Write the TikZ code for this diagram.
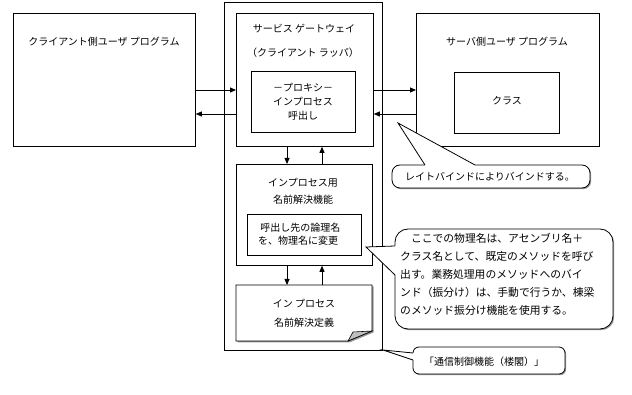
\documentclass[tikz,border=0pt]{standalone}
\usepackage{fontspec}
\setmainfont{Noto Sans CJK JP}
\usetikzlibrary{arrows.meta}
\begin{document}
\begin{tikzpicture}[x=1pt,y=-1pt,
  box/.style={draw, line width=0.8pt, inner sep=0pt, anchor=north west},
  lbl/.style={inner sep=0pt, font=\fontsize{10}{13}\selectfont, align=center},
  arr/.style={line width=0.8pt, -{Triangle[length=6pt,width=5pt]}},
  cshadow/.style={fill=black!40, draw=none},
  cbody/.style={fill=white, draw, line width=0.8pt},
  cline/.style={line width=0.8pt}]
\useasboundingbox (0,0) rectangle (632,395);

% client side
\node[box, minimum width=182pt, minimum height=133pt] (client) at (13,13) {};
\node[lbl] (clienttxt) at (104,42) {クライアント側ユーザ プログラム};

% gateway
\node[box, minimum width=158pt, minimum height=348pt] (outer) at (224,2) {};
\node[box, minimum width=137pt, minimum height=133pt] (gw) at (236,13) {};
\node[lbl] (gwt1) at (304,29) {サービス ゲートウェイ};
\node[lbl] (gwt2) at (303,53) {（クライアント ラッパ）};
\node[box, minimum width=104pt, minimum height=61pt] (proxy) at (251,71) {};
\node[lbl, font=\fontsize{10}{14}\selectfont] (proxytxt) at (303,102) {－プロキシ－\\インプロセス\\呼出し};

% server side
\node[box, minimum width=183pt, minimum height=133pt] (server) at (416,13) {};
\node[lbl] (servertxt) at (507,42) {サーバ側ユーザ プログラム};
\node[box, minimum width=105pt, minimum height=61pt] (cls) at (454,72) {};
\node[lbl] (clstxt) at (507,101) {クラス};

% name resolution
\node[box, minimum width=136pt, minimum height=101pt] (nres) at (236,164) {};
\node[lbl, font=\fontsize{10}{17}\selectfont] (nrestxt) at (303,191.5) {インプロセス用\\名前解決機能};
\node[box, minimum width=114pt, minimum height=41pt] (conv) at (247,214) {};
\node[lbl, align=left, font=\fontsize{10}{12.5}\selectfont, anchor=west] (convtxt) at (258,234) {\ 呼出し先の論理名\\を、物理名に変更};

% definition (document shape)
\node[inner sep=0pt, minimum width=136pt, minimum height=56pt, anchor=north west] (def) at (236,285) {};
\fill[black!40] (237.5,286.5) -- (373.5,286.5) -- (373.5,332.5) -- (349.5,342.5) -- (237.5,342.5) -- cycle;
\draw[fill=white, line width=0.8pt] (236,285) -- (372,285) -- (372,331) -- (348,341) -- (236,341) -- cycle;
\filldraw[fill=black!25, line width=0.6pt] (348,341) -- (353,332) -- (372,331) -- cycle;
\node[lbl, font=\fontsize{10}{19}\selectfont] (deftxt) at (304,313.5) {イン プロセス\\名前解決定義};

% arrows
\draw[arr] (client.east |- 0,90) -- (gw.west |- 0,90);
\draw[arr] (gw.west |- 0,114) -- (client.east |- 0,114);
\draw[arr] (gw.east |- 0,90) -- (server.west |- 0,90);
\draw[arr] (server.west |- 0,114) -- (gw.east |- 0,114);
\draw[arr] (gw.south -| 287,0) -- (nres.north -| 287,0);
\draw[arr] (nres.north -| 322,0) -- (gw.south -| 322,0);
\draw[arr] (nres.south -| 287,0) -- (def.north -| 287,0);
\draw[arr] (def.north -| 322,0) -- (nres.south -| 322,0);

% callout 1
\coordinate (c1tip) at (398,123);
\fill[cshadow, rounded corners=8pt] (393.2,166.2) rectangle (591.2,189.2);
\draw[cbody, rounded corners=8pt] (392,165) rectangle (590,188);
\fill[white] (c1tip) -- (425,165) -- (425,166) -- (475,166) -- (475,165) -- cycle;
\draw[cline] (425,165) -- (c1tip) -- (475,165);
\node[lbl] (c1txt) at (490,176.5) {レイトバインドによりバインドする。};

% callout 2
\coordinate (c2tip) at (366,247);
\fill[cshadow, rounded corners=13pt] (396.2,230.2) rectangle (614.2,330.2);
\draw[cbody, rounded corners=13pt] (395,229) rectangle (613,329);
\fill[white] (c2tip) -- (395,246) -- (396,246) -- (396,275) -- (395,275) -- cycle;
\draw[cline] (395,246) -- (c2tip) -- (395,275);
\node[lbl, align=left, anchor=west, font=\fontsize{10.8}{18}\selectfont] (c2txt) at (400,274) {　ここでの物理名は、アセンブリ名＋\\クラス名として、既定のメソッドを呼び\\出す。業務処理用のメソッドへのバイ\\ンド（振分け）は、手動で行うか、棟梁\\のメソッド振分け機能を使用する。};

% callout 3
\coordinate (c3tip) at (383,350);
\fill[cshadow, rounded corners=6pt] (414.2,348.2) rectangle (566.2,375.2);
\draw[cbody, rounded corners=6pt] (413,347) rectangle (565,374);
\fill[white] (c3tip) -- (413,353) -- (414,353) -- (414,360) -- (413,360) -- cycle;
\draw[cline] (413,353) -- (c3tip) -- (413,360);
\node[lbl] (c3txt) at (484,362) {「通信制御機能（楼閣）」};
\end{tikzpicture}
\end{document}
